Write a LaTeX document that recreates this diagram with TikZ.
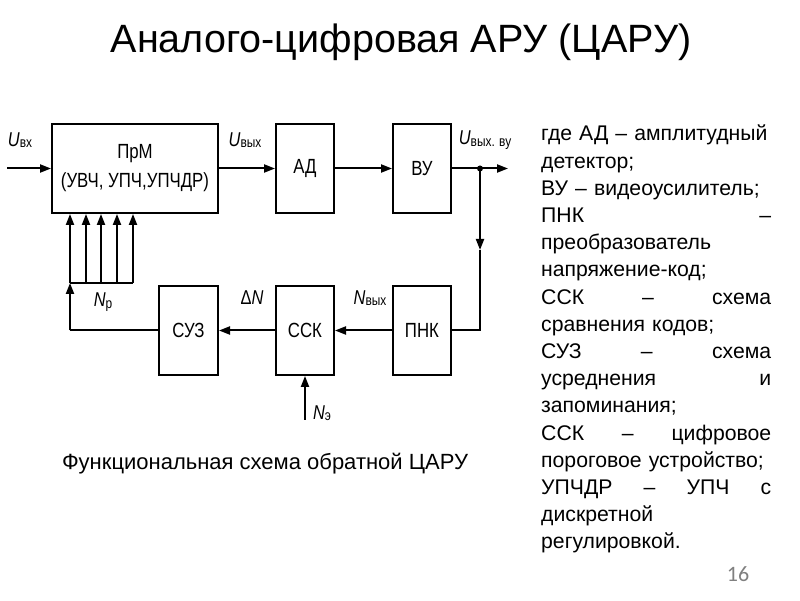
\documentclass[tikz,border=0pt]{standalone}
\usepackage{fontspec}
\setmainfont{Liberation Sans}
\newfontfamily\narrowfont[FakeStretch=0.82]{Liberation Sans}
\newfontfamily\numfont{Carlito}
\usetikzlibrary{arrows.meta}
\newcommand{\sig}[2]{\textit{#1}\raisebox{-0.15ex}{\fontsize{14.5}{14.5}\selectfont #2}}

\begin{document}
\begin{tikzpicture}[x=1pt,y=1pt,
    block/.style={draw,line width=2pt,minimum width=58pt,minimum height=89pt,inner sep=0pt,
        font=\narrowfont\fontsize{20.5}{29}\selectfont},
    wire/.style={line width=2pt},
    arr/.style={wire,-{Triangle[length=11pt,width=8pt]}},
    lbl/.style={font=\narrowfont\fontsize{20}{20}\selectfont,inner sep=0pt}]
    \useasboundingbox (0,0) rectangle (800,600);

    \node[font=\fontsize{39.5}{40}\selectfont] (title) at (401,558) {Аналого-цифровая АРУ (ЦАРУ)};

    % signal labels
    \node[lbl] (uin) at (20,460) {\sig{U}{вх}};
    \node[lbl] (uout) at (245,460) {\sig{U}{вых}};
    \node[lbl] (uvu) at (485,460) {\sig{U}{вых. ву}};
    \node[lbl] (np) at (103,298) {\sig{N}{р}};
    \node[lbl] (dn) at (252,302) {Δ\textit{N}};
    \node[lbl] (nout) at (370,302) {\sig{N}{вых}};
    \node[lbl] (ne) at (322,187) {\sig{N}{э}};

    % upper row
    \node[block,minimum width=166pt,align=center] (prm) at (135,431.5) {ПрМ\\(УВЧ, УПЧ,УПЧДР)};
    \node[block] (ad) at (305,431.5) {АД};
    \node[block] (vu) at (422,431.5) {ВУ};
    % lower row
    \node[block,minimum width=59pt] (suz) at (188.5,269.5) {СУЗ};
    \node[block] (ssk) at (305,269.5) {ССК};
    \node[block] (pnk) at (422,269.5) {ПНК};

    \node[font=\fontsize{22}{22}\selectfont] (caption) at (265,136) {Функциональная схема обратной ЦАРУ};

    \node[anchor=north west,text width=230pt,align=left,inner sep=0pt,
        font=\fontsize{21.2}{27.2}\selectfont\parindent0pt] (notes) at (541,475) {%
        где АД – амплитудный\\
        детектор;\\
        ВУ – видеоусилитель;\\
        ПНК\hfill–\\
        преобразователь\\
        напряжение-код;\\
        ССК\hfill–\hfill схема\\
        сравнения кодов;\\
        СУЗ\hfill–\hfill схема\\
        усреднения\hfill и\\
        запоминания;\\
        ССК\hfill–\hfill цифровое\\
        пороговое устройство;\\
        УПЧДР\hfill–\hfill УПЧ\hfill с\\
        дискретной\\
        регулировкой.};

    \node[font=\numfont\fontsize{22}{22}\selectfont,text=gray] (page) at (738,26) {16};

    \coordinate (in) at (7,431.5);
    \coordinate (out) at (508,431.5);
    \coordinate (junc) at (480,431.5);
    \coordinate (mid) at (480,350);
    \coordinate (turn) at (480,269.5);
    \coordinate (back) at (70,269.5);
    \coordinate (bus) at (70,317);
    \coordinate (ref) at (305,180);

    % connectors
    \draw[arr] (in) -- (prm.west);
    \draw[arr] (prm.east) -- (ad.west);
    \draw[arr] (ad.east) -- (vu.west);
    \draw[arr] (vu.east) -- (out);
    \fill (junc) circle (3pt);
    \draw[arr] (junc) -- (mid);
    \draw[wire] (mid) -- (turn) -- (pnk.east);
    \draw[arr] (pnk.west) -- (ssk.east);
    \draw[arr] (ssk.west) -- (suz.east);
    \draw[wire] (suz.west) -- (back);
    \draw[arr] (back) -- (bus);
    \draw[wire] (bus) -- ([xshift=63pt]bus);
    \foreach \dx in {0,16,31,47,63}
        \draw[arr] ([xshift=\dx pt]bus) -- ([xshift=\dx pt]bus |- prm.south);
    \draw[arr] (ref) -- (ssk.south);
\end{tikzpicture}
\end{document}
